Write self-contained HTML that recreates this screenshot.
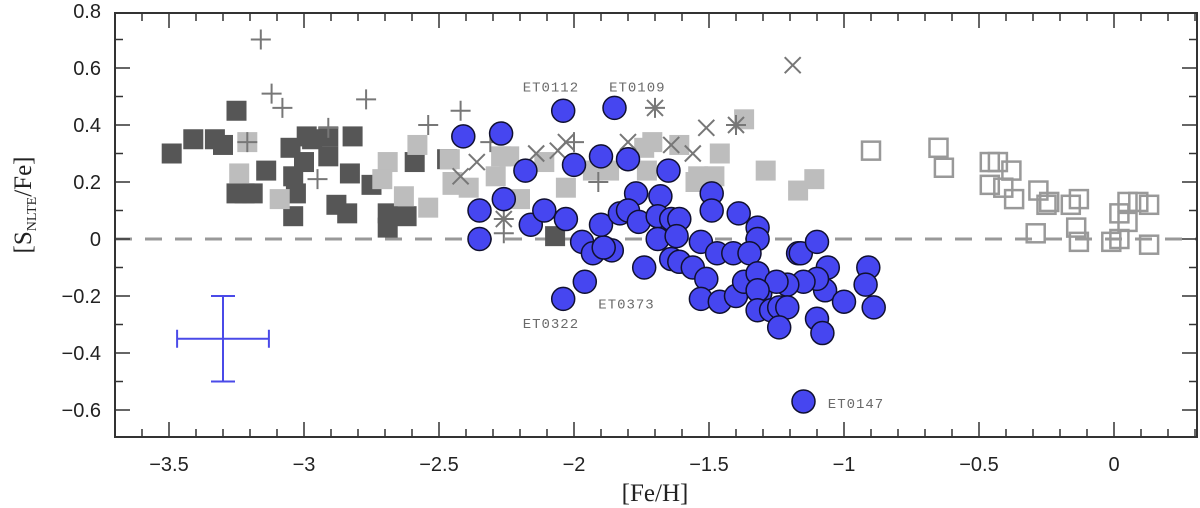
<!DOCTYPE html>
<html><head><meta charset="utf-8"><style>
html,body{margin:0;padding:0;background:#fff;}
svg{display:block;}
</style></head><body>
<svg id="chart" width="1200" height="508" viewBox="0 0 1200 508" xmlns="http://www.w3.org/2000/svg"></svg>
<script>
const xTicks = [-3.5, -3, -2.5, -2, -1.5, -1, -0.5, 0];
const xTickLabels = ["\u22123.5", "\u22123", "\u22122.5", "\u22122", "\u22121.5", "\u22121", "\u22120.5", "0"];
const yTicks = [0.8, 0.6, 0.4, 0.2, 0, -0.2, -0.4, -0.6];
const yTickLabels = ["0.8", "0.6", "0.4", "0.2", "0", "\u22120.2", "\u22120.4", "\u22120.6"];

const darkX = [-3.49,-3.41,-3.33,-3.30,-3.25,-3.14,-3.22,-3.25,-3.19,-3.05,-3.04,-3.03,-3.04,-2.99,-2.97,-3.00,-2.91,-2.91,-2.83,-2.82,-2.88,-2.84,-2.75,-2.69,-2.69,-2.62,-2.59,-2.47,-2.07];
const darkY = [0.30,0.35,0.35,0.33,0.45,0.24,0.16,0.16,0.16,0.32,0.22,0.16,0.08,0.36,0.35,0.27,0.36,0.29,0.23,0.36,0.12,0.09,0.19,0.09,0.04,0.08,0.27,0.28,0.01];

const lightX = [-3.21,-3.24,-3.09,-2.69,-2.71,-2.58,-2.63,-2.54,-2.45,-2.46,-2.45,-2.39,-2.27,-2.24,-2.29,-2.20,-2.11,-2.03,-1.93,-1.87,-1.74,-1.71,-1.73,-1.61,-1.54,-1.48,-1.46,-1.37,-1.29,-1.17,-1.11,-1.55];
const lightY = [0.34,0.23,0.14,0.27,0.21,0.33,0.15,0.11,0.19,0.28,0.20,0.18,0.29,0.29,0.22,0.14,0.27,0.18,0.24,0.24,0.32,0.34,0.24,0.33,0.22,0.22,0.30,0.42,0.24,0.17,0.21,0.20];

const openX = [-0.90,-0.65,-0.63,-0.46,-0.43,-0.38,-0.46,-0.41,-0.37,-0.28,-0.25,-0.24,-0.16,-0.13,-0.29,-0.14,-0.13,-0.01,0.02,0.05,0.05,0.09,0.13,0.02,0.13];
const openY = [0.31,0.32,0.25,0.27,0.27,0.24,0.19,0.18,0.14,0.17,0.12,0.13,0.12,0.14,0.02,0.04,-0.01,-0.01,0.09,0.06,0.13,0.13,0.12,0.00,-0.02];

const plusX = [-3.16,-3.12,-3.08,-2.77,-2.91,-2.54,-2.42,-3.21,-2.95,-2.31,-2.00,-1.91,-2.26,-2.26,-1.70,-1.40];
const plusY = [0.70,0.51,0.46,0.49,0.39,0.40,0.45,0.34,0.21,0.34,0.34,0.20,0.02,0.07,0.46,0.40];

const crossX = [-1.19,-2.42,-2.36,-2.14,-2.06,-2.03,-1.80,-1.70,-1.64,-1.56,-1.51,-1.40,-2.26];
const crossY = [0.61,0.22,0.27,0.30,0.31,0.34,0.34,0.46,0.33,0.30,0.39,0.40,0.07];

const blueX = [-2.41,-2.27,-2.04,-1.85,-2.18,-2.00,-1.90,-1.80,-1.65,-2.26,-2.35,-2.35,-2.16,-2.11,-2.03,-1.77,-1.68,-1.49,-1.49,-1.39,-1.32,-1.32,-1.97,-1.93,-1.86,-1.89,-1.90,-1.83,-1.80,-1.76,-1.69,-1.64,-1.61,-1.69,-1.62,-1.64,-1.61,-1.56,-1.53,-1.47,-1.51,-1.41,-1.35,-1.74,-1.96,-2.04,-1.53,-1.46,-1.40,-1.37,-1.32,-1.31,-1.26,-1.17,-1.16,-1.10,-1.06,-0.91,-0.92,-1.07,-1.10,-1.15,-1.21,-1.25,-1.32,-1.32,-1.27,-1.24,-1.21,-1.24,-1.10,-1.08,-1.00,-0.89,-1.15];
const blueY = [0.36,0.37,0.45,0.46,0.24,0.26,0.29,0.28,0.24,0.14,0.10,0.00,0.05,0.10,0.07,0.16,0.15,0.16,0.10,0.09,0.04,0.00,-0.01,-0.05,-0.04,-0.03,0.05,0.09,0.10,0.06,0.08,0.07,0.07,0.00,0.01,-0.07,-0.08,-0.10,-0.01,-0.05,-0.14,-0.05,-0.05,-0.10,-0.15,-0.21,-0.21,-0.22,-0.20,-0.15,-0.12,-0.19,-0.25,-0.05,-0.05,-0.01,-0.10,-0.10,-0.16,-0.18,-0.14,-0.15,-0.16,-0.15,-0.18,-0.25,-0.25,-0.24,-0.24,-0.31,-0.28,-0.33,-0.22,-0.24,-0.57];

const starNames = ["ET0112","ET0109","ET0322","ET0373","ET0147"];
const starLabelX = [-2.19,-1.87,-2.19,-1.91,-1.06];
const starLabelY = [0.53,0.53,-0.30,-0.23,-0.58];

const errX = -3.30, errY = -0.35, errDx = 0.17, errDy = 0.15;

const NS = "http://www.w3.org/2000/svg";
const svg = document.getElementById('chart');
const L = 115, R = 1197, T = 13, B = 437;
function sx(v){ return 169 + (v + 3.5) * 270; }
function sy(v){ return 239 - v * 285; }
function mk(tag, attrs, parent){
  const e = document.createElementNS(NS, tag);
  for (const k in attrs) e.setAttribute(k, attrs[k]);
  (parent || svg).appendChild(e);
  return e;
}

const zl = mk('line', {x1:L, x2:R, y1:sy(0), y2:sy(0), stroke:'#999', 'stroke-width':3, 'stroke-dasharray':'17,13'});



const gD = mk('g', {});


darkX.forEach((x,i)=>{
  const r = mk('rect', {x:sx(x)-10, y:sy(darkY[i])-10, width:20, height:20, fill:'#565656'}, gD);
  
  
});
const gL = mk('g', {});


lightX.forEach((x,i)=>{
  const r = mk('rect', {x:sx(x)-10, y:sy(lightY[i])-10, width:20, height:20, fill:'#bdbdbd'}, gL);
  
  
});
const gO = mk('g', {});


openX.forEach((x,i)=>{
  const r = mk('rect', {x:sx(x)-9, y:sy(openY[i])-9, width:18, height:18, fill:'none', stroke:'#999', 'stroke-width':2.5}, gO);
  
  
});
const gP = mk('g', {});


plusX.forEach((x,i)=>{
  const cx = sx(x), cy = sy(plusY[i]);
  const p = mk('path', {d:`M${cx-10} ${cy}H${cx+10}M${cx} ${cy-10}V${cy+10}`, stroke:'#777', 'stroke-width':2, fill:'none'}, gP);
  
  
});
const gX = mk('g', {});


crossX.forEach((x,i)=>{
  const cx = sx(x), cy = sy(crossY[i]);
  const p = mk('path', {d:`M${cx-8} ${cy-8}L${cx+8} ${cy+8}M${cx+8} ${cy-8}L${cx-8} ${cy+8}`, stroke:'#777', 'stroke-width':2, fill:'none'}, gX);
  
  
});
const gB = mk('g', {});


blueX.forEach((x,i)=>{
  const c = mk('circle', {cx:sx(x), cy:sy(blueY[i]), r:11.5, fill:'#4646f0', stroke:'#101030', 'stroke-width':1.5}, gB);
  
  
});
starNames.forEach((n,i)=>{
  const t = mk('text', {x:sx(starLabelX[i]), y:sy(starLabelY[i]), 'font-family':'Liberation Mono, monospace', 'font-size':14, fill:'#6a6a6a', 'letter-spacing':1, 'dominant-baseline':'middle'});
  t.textContent = n;
  
  
});
const eb = mk('path', {d:`M${sx(errX-errDx)} ${sy(errY)}H${sx(errX+errDx)}M${sx(errX)} ${sy(errY+errDy)}V${sy(errY-errDy)}M${sx(errX-errDx)} ${sy(errY)-9}V${sy(errY)+9}M${sx(errX+errDx)} ${sy(errY)-9}V${sy(errY)+9}M${sx(errX)-12} ${sy(errY+errDy)}H${sx(errX)+12}M${sx(errX)-12} ${sy(errY-errDy)}H${sx(errX)+12}`, stroke:'#4a4ae8', 'stroke-width':2, fill:'none'});



const fr = mk('rect', {x:L, y:T, width:R-L, height:B-T, fill:'none', stroke:'#333', 'stroke-width':2});



let td = '';
for (let k = -37; k <= 3; k++){
  const v = k/10, px = sx(v);
  if (px < L || px > R) continue;
  const len = (k % 5 === 0) ? 15 : 8;
  td += `M${px} ${B}V${B-len}M${px} ${T}V${T+len}`;
}
for (let k = -6; k <= 8; k++){
  const v = k/10, py = sy(v);
  if (py < T-1 || py > B) continue;
  const len = (k % 2 === 0) ? 15 : 8;
  td += `M${L} ${py}H${L+len}M${R} ${py}H${R-len}`;
}
const tk = mk('path', {d:td, stroke:'#333', 'stroke-width':1.5, fill:'none'});



xTicks.forEach((v,i)=>{
  const t = mk('text', {x:sx(v), y:471, 'text-anchor':'middle', 'font-family':'Liberation Sans, sans-serif', 'font-size':20, fill:'#222'});
  t.textContent = xTickLabels[i];
  
  
});
yTicks.forEach((v,i)=>{
  const t = mk('text', {x:101, y:sy(v)+7, 'text-anchor':'end', 'font-family':'Liberation Sans, sans-serif', 'font-size':20, fill:'#222'});
  t.textContent = yTickLabels[i];
  
  
});
const xt = mk('text', {x:655, y:501, 'text-anchor':'middle', 'font-family':'Liberation Serif, serif', 'font-size':25, fill:'#222'});
xt.textContent = '[Fe/H]';


const yt = mk('text', {x:0, y:0, transform:'translate(31,205) rotate(-90)', 'text-anchor':'middle', 'font-family':'Liberation Serif, serif', 'font-size':25, fill:'#222'});


const s1 = mk('tspan', {}, yt); s1.textContent = '[S';
const s2 = mk('tspan', {'font-size':14, dy:5}, yt); s2.textContent = 'NLTE';
const s3 = mk('tspan', {dy:-5}, yt); s3.textContent = '/Fe]';
</script>
</body></html>
